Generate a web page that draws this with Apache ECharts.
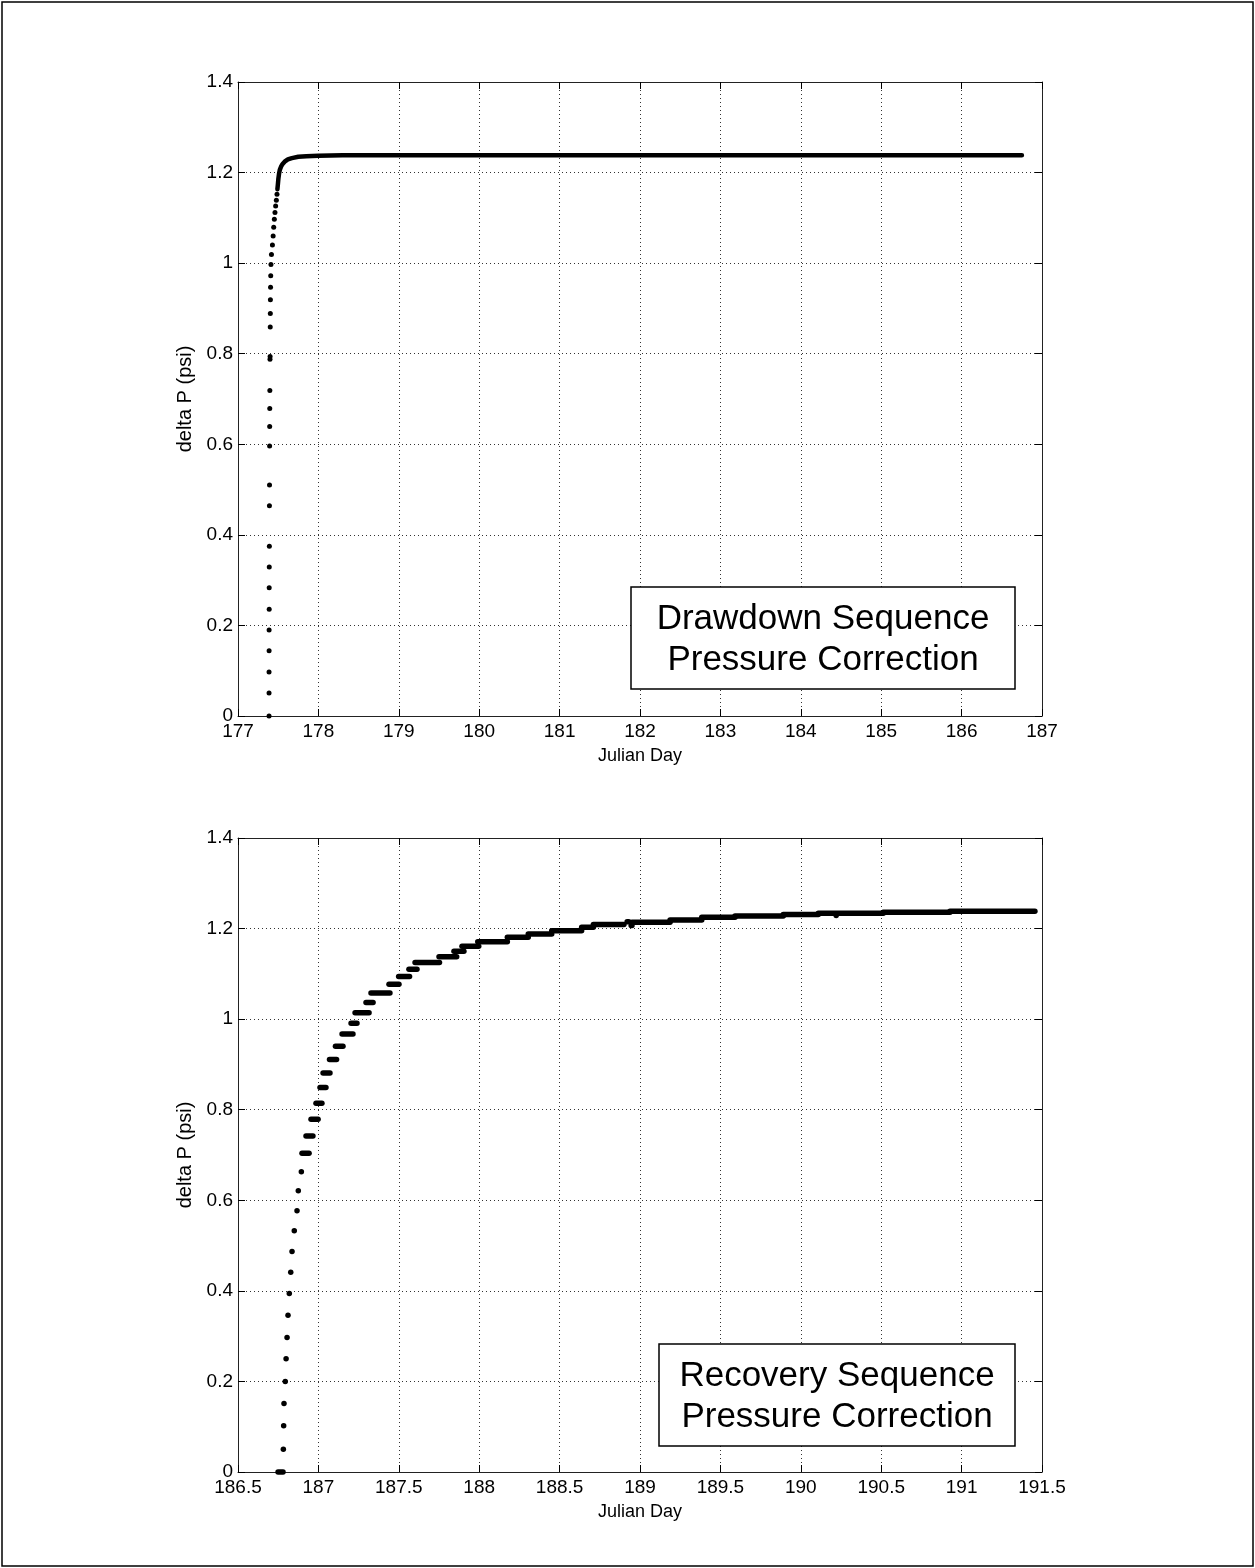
<!DOCTYPE html>
<html>
<head>
<meta charset="utf-8">
<title>Pressure Correction</title>
<script src="https://cdn.jsdelivr.net/npm/echarts@6/dist/echarts.min.js"></script>
<style>
  html, body { margin: 0; padding: 0; background: #fff; }
  #chart { width: 1255px; height: 1568px; }
</style>
</head>
<body>
<div id="chart"></div>
<script>
// ---- Drawdown sequence: sparse early readings (Julian day, delta P psi) ----
const drawdownSparseDay = [177.386, 177.386, 177.386, 177.387, 177.387, 177.388, 177.388, 177.389, 177.390,
  177.391, 177.392, 177.393, 177.394, 177.395, 177.396, 177.398, 177.399, 177.401, 177.402, 177.403,
  177.405, 177.407, 177.410, 177.416, 177.428, 177.437, 177.444, 177.452, 177.460, 177.468, 177.477, 177.485];
const drawdownSparseDp = [0.000, 0.051, 0.097, 0.144, 0.190, 0.236, 0.283, 0.329, 0.375,
  0.464, 0.510, 0.596, 0.639, 0.679, 0.719, 0.788, 0.794, 0.859, 0.889, 0.919,
  0.947, 0.972, 0.997, 1.019, 1.040, 1.060, 1.079, 1.097, 1.112, 1.126, 1.139, 1.152];

// ---- Drawdown sequence: densely sampled knee and plateau ----
const drawdownDenseDay = [177.490, 177.496, 177.502, 177.510, 177.520, 177.535, 177.555, 177.580,
  177.620, 177.670, 177.750, 177.850, 178.000, 178.300, 186.750];
const drawdownDenseDp = [1.163, 1.174, 1.186, 1.197, 1.206, 1.213, 1.219, 1.224,
  1.229, 1.232, 1.235, 1.236, 1.237, 1.238, 1.238];

// ---- Recovery sequence: runs of readings at one quantized level ----
const recoveryStart = [186.749, 186.782, 186.784, 186.786, 186.794, 186.799, 186.805, 186.811, 186.819, 186.828,
  186.836, 186.850, 186.867, 186.875, 186.894, 186.898, 186.923, 186.954, 186.985, 187.010,
  187.029, 187.069, 187.106, 187.147, 187.203, 187.228, 187.296, 187.327, 187.439, 187.499,
  187.563, 187.601, 187.750, 187.843, 187.893, 187.991, 188.175, 188.305, 188.451, 188.637,
  188.710, 188.920, 188.945, 188.950, 189.187, 189.384, 189.591, 189.891, 190.109, 190.220,
  190.513, 190.928];
const recoveryEnd = [186.780, 186.782, 186.784, 186.786, 186.794, 186.799, 186.805, 186.811, 186.819, 186.828,
  186.836, 186.850, 186.867, 186.875, 186.894, 186.942, 186.966, 186.998, 187.022, 187.047,
  187.072, 187.113, 187.153, 187.215, 187.240, 187.315, 187.340, 187.445, 187.501, 187.567,
  187.613, 187.753, 187.860, 187.905, 187.997, 188.175, 188.305, 188.451, 188.637, 188.710,
  188.900, 188.930, 188.950, 189.187, 189.384, 189.591, 189.891, 190.109, 190.513, 190.220,
  190.928, 191.456];
const recoveryDp = [0.000, 0.050, 0.102, 0.151, 0.200, 0.250, 0.297, 0.346, 0.394, 0.441,
  0.487, 0.533, 0.577, 0.621, 0.663, 0.704, 0.742, 0.779, 0.814, 0.849,
  0.881, 0.911, 0.940, 0.967, 0.991, 1.014, 1.037, 1.058, 1.077, 1.094,
  1.110, 1.125, 1.138, 1.150, 1.161, 1.171, 1.181, 1.188, 1.195, 1.203,
  1.209, 1.215, 1.207, 1.214, 1.219, 1.225, 1.228, 1.231, 1.234, 1.229,
  1.236, 1.238];

// ---- Axis ranges and tick spacing ----
const drawdownDayRange = [177, 187, 1];
const recoveryDayRange = [186.5, 191.5, 0.5];
const pressureRange = [0, 1.4, 0.2];

const FONT = '"Liberation Sans", Arial, Helvetica, sans-serif';

const zipPairs = (xs, ys) => xs.map((x, i) => [x, ys[i]]);
const recoveryRuns = recoveryStart.map((x, i) => [x, recoveryEnd[i], recoveryDp[i]]);

const gridBoxes = [
  { left: 238, top: 82, width: 804, height: 634 },
  { left: 238, top: 838, width: 804, height: 634 }
];

function mainX(gridIndex, range) {
  return {
    type: 'value', gridIndex, position: 'bottom',
    min: range[0], max: range[1], interval: range[2],
    name: 'Julian Day', nameLocation: 'middle', nameGap: 31,
    nameTextStyle: { fontFamily: FONT, fontSize: 18, color: '#000' },
    axisLine: { show: true, onZero: false, lineStyle: { color: '#222', width: 1 } },
    axisTick: { show: true, inside: true, length: 7, lineStyle: { color: '#000' } },
    axisLabel: { fontFamily: FONT, fontSize: 19, color: '#000', margin: 6 },
    splitLine: { show: true, lineStyle: { color: '#333', type: [1, 3], width: 1 } }
  };
}
function topX(gridIndex, range) {
  return {
    type: 'value', gridIndex, position: 'top',
    min: range[0], max: range[1], interval: range[2],
    axisLine: { show: true, onZero: false, lineStyle: { color: '#222', width: 1 } },
    axisTick: { show: true, inside: true, length: 7, lineStyle: { color: '#000' } },
    axisLabel: { show: false }, splitLine: { show: false }
  };
}
function mainY(gridIndex) {
  return {
    type: 'value', gridIndex, position: 'left',
    min: pressureRange[0], max: pressureRange[1], interval: pressureRange[2],
    name: 'delta P (psi)', nameLocation: 'middle', nameGap: 38, nameRotate: 90,
    nameTextStyle: { fontFamily: FONT, fontSize: 20, color: '#000' },
    axisLine: { show: true, onZero: false, lineStyle: { color: '#222', width: 1 } },
    axisTick: { show: true, inside: true, length: 7, lineStyle: { color: '#000' } },
    axisLabel: { fontFamily: FONT, fontSize: 19, color: '#000', margin: 5 },
    splitLine: { show: true, lineStyle: { color: '#333', type: [1, 3], width: 1 } }
  };
}
function rightY(gridIndex) {
  return {
    type: 'value', gridIndex, position: 'right',
    min: pressureRange[0], max: pressureRange[1], interval: pressureRange[2],
    axisLine: { show: true, onZero: false, lineStyle: { color: '#222', width: 1 } },
    axisTick: { show: true, inside: true, length: 7, lineStyle: { color: '#000' } },
    axisLabel: { show: false }, splitLine: { show: false }
  };
}

// Each recovery run is drawn as a capsule spanning its start/end day
function renderRun(params, api) {
  const p0 = api.coord([api.value(0), api.value(2)]);
  const p1 = api.coord([api.value(1), api.value(2)]);
  const h = 5.5;
  return {
    type: 'rect',
    shape: { x: p0[0] - h / 2, y: p0[1] - h / 2, width: Math.max(p1[0] - p0[0], 0) + h, height: h, r: h / 2 },
    style: { fill: '#000' }
  };
}

function labelBox(x, y, w, h, text) {
  return {
    type: 'group',
    children: [
      { type: 'rect', shape: { x, y, width: w, height: h },
        style: { fill: '#fff', stroke: '#000', lineWidth: 1.5 }, z: 10 },
      { type: 'text', x: x + w / 2, y: y + h / 2 + 2, z: 11,
        style: { text, fontFamily: FONT, fontSize: 35, lineHeight: 41,
                 fill: '#000', align: 'center', verticalAlign: 'middle' } }
    ]
  };
}

const chart = echarts.init(document.getElementById('chart'), null, { renderer: 'canvas' });
chart.setOption({
  backgroundColor: '#fff',
  animation: false,
  grid: gridBoxes,
  xAxis: [mainX(0, drawdownDayRange), topX(0, drawdownDayRange),
          mainX(1, recoveryDayRange), topX(1, recoveryDayRange)],
  yAxis: [mainY(0), rightY(0), mainY(1), rightY(1)],
  series: [
    {
      type: 'scatter', xAxisIndex: 0, yAxisIndex: 0,
      data: zipPairs(drawdownSparseDay, drawdownSparseDp),
      symbol: 'circle', symbolSize: 5,
      itemStyle: { color: '#000', opacity: 1 }
    },
    {
      type: 'line', xAxisIndex: 0, yAxisIndex: 0,
      data: zipPairs(drawdownDenseDay, drawdownDenseDp),
      showSymbol: false,
      lineStyle: { color: '#000', width: 4.5, cap: 'round', join: 'round' }
    },
    {
      type: 'custom', xAxisIndex: 2, yAxisIndex: 2,
      data: recoveryRuns,
      encode: { x: [0, 1], y: 2 },
      renderItem: renderRun
    }
  ],
  graphic: [
    { type: 'rect', shape: { x: 2, y: 2, width: 1251, height: 1564 },
      style: { fill: 'none', stroke: '#000', lineWidth: 1.5 }, z: 0 },
    labelBox(631, 587, 384, 102, 'Drawdown Sequence\nPressure Correction'),
    labelBox(659, 1344, 356, 102, 'Recovery Sequence\nPressure Correction')
  ]
});
</script>
</body>
</html>
